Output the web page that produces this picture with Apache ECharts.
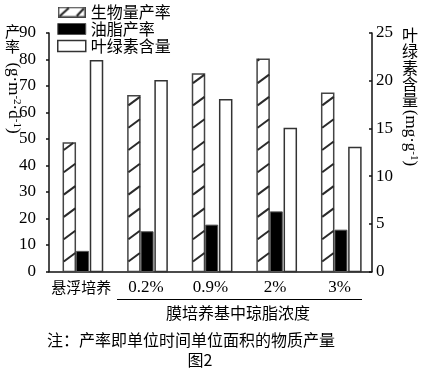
<!DOCTYPE html>
<html>
<head>
<meta charset="utf-8">
<script src="https://cdn.jsdelivr.net/npm/echarts@6/dist/echarts.min.js"></script>
<style>html,body{margin:0;padding:0;background:#fff;}#main{width:429px;height:381px;}</style>
</head>
<body>
<div id="main"></div>
<script>
// ---- data ----
const categories = ['悬浮培养', '0.2%', '0.9%', '2%', '3%'];
const biomassRate = [48.5, 66.3, 74.5, 80.1, 67.3];   // 生物量产率 (left axis)
const lipidRate = [7.6, 15.0, 17.5, 22.5, 15.6];      // 油脂产率 (left axis)
const chlorophyll = [22.1, 20.0, 18.0, 15.0, 13.0];   // 叶绿素含量 (right axis)
const leftAxis = { min: 0, max: 90, interval: 10 };
const rightAxis = { min: 0, max: 25, interval: 5 };
const seriesNames = ['生物量产率', '油脂产率', '叶绿素含量'];

const CJK = 'Noto Sans CJK SC';
const SERIF = 'Liberation Serif';

// hatched legend icon
const cv = document.createElement('canvas');
cv.width = 28; cv.height = 11;
const cx = cv.getContext('2d');
cx.fillStyle = '#fff'; cx.fillRect(0, 0, 28, 11);
cx.strokeStyle = '#444'; cx.lineWidth = 1.5; cx.strokeRect(0.75, 0.75, 26.5, 9.5);
cx.strokeStyle = '#222'; cx.lineWidth = 2;
cx.beginPath(); cx.moveTo(2, 9.5); cx.lineTo(11, 1.5); cx.stroke();
cx.beginPath(); cx.moveTo(19, 9.5); cx.lineTo(26, 2); cx.stroke();
const hatchIcon = 'image://' + cv.toDataURL();

function barRenderer(offset, fill, stroke, lw, hatched) {
  return function (params, api) {
    const i = api.value(0), v = api.value(1);
    const p0 = api.coord([i, 0]);
    const p1 = api.coord([i, v]);
    const w = 12, x = p0[0] + offset, bottom = p0[1], top = p1[1];
    const children = [{
      type: 'rect',
      shape: { x: x, y: top, width: w, height: bottom - top },
      style: { fill: fill, stroke: stroke, lineWidth: lw }
    }];
    if (hatched) {
      for (let k = 0; k < 100; k++) {
        const yL = bottom - 10 - 22.3 * k;
        const yR = yL - 8.5;
        if (yL <= top + 1) break;
        let x2 = x + w, y2 = yR;
        if (yR < top) { const t = (yL - top) / (yL - yR); x2 = x + w * t; y2 = top; }
        children.push({ type: 'line', shape: { x1: x + 0.5, y1: yL, x2: x2, y2: y2 },
          style: { stroke: '#2a2a2a', lineWidth: 2 } });
      }
    }
    return { type: 'group', children: children };
  };
}

const chart = echarts.init(document.getElementById('main'), null, { renderer: 'canvas' });
chart.setOption({
  animation: false,
  backgroundColor: '#fff',
  grid: { left: 49, right: 57, top: 33, bottom: 109.5 },
  legend: {
    orient: 'vertical', left: 57, top: 4, padding: 0, itemWidth: 28, itemHeight: 11, itemGap: 1,
    selectedMode: false,
    textStyle: { fontFamily: CJK, fontSize: 16, color: '#000', lineHeight: 16 },
    data: [
      { name: seriesNames[0], icon: hatchIcon },
      { name: seriesNames[1], icon: 'rect', itemStyle: { color: '#000', borderColor: '#555', borderWidth: 1 } },
      { name: seriesNames[2], icon: 'rect', itemStyle: { color: '#fff', borderColor: '#333', borderWidth: 1.5 } }
    ]
  },
  xAxis: {
    type: 'category', data: categories, boundaryGap: true,
    axisLine: { lineStyle: { color: '#111', width: 1.5 } },
    axisTick: { inside: true, length: 6, interval: 0, lineStyle: { color: '#111', width: 1.5 } },
    axisLabel: {
      interval: 0, margin: 8, color: '#000', fontFamily: SERIF, fontSize: 17,
      formatter: v => /[\u4e00-\u9fff]/.test(v) ? '{c|' + v + '}' : v,
      rich: { c: { fontFamily: CJK, fontSize: 15, color: '#000' } }
    }
  },
  yAxis: [
    {
      type: 'value', min: leftAxis.min, max: leftAxis.max, interval: leftAxis.interval,
      splitLine: { show: false },
      axisLine: { show: true, lineStyle: { color: '#111', width: 1.5 } },
      axisTick: { show: true, length: 3, lineStyle: { color: '#111', width: 1.5 } },
      axisLabel: { margin: 13, color: '#000', fontFamily: SERIF, fontSize: 17 }
    },
    {
      type: 'value', min: rightAxis.min, max: rightAxis.max, interval: rightAxis.interval,
      position: 'right', splitLine: { show: false },
      axisLine: { show: true, lineStyle: { color: '#111', width: 1.5 } },
      axisTick: { show: true, inside: true, length: 3, lineStyle: { color: '#111', width: 1.5 } },
      axisLabel: { margin: 4, color: '#000', fontFamily: SERIF, fontSize: 17 }
    }
  ],
  series: [
    {
      name: seriesNames[0], type: 'custom', yAxisIndex: 0,
      itemStyle: { color: '#fff', borderColor: '#444' },
      renderItem: barRenderer(-18, '#fff', '#444', 1.5, true),
      data: biomassRate.map((v, i) => [i, v])
    },
    {
      name: seriesNames[1], type: 'custom', yAxisIndex: 0,
      itemStyle: { color: '#000' },
      renderItem: barRenderer(-4.8, '#000', '#555', 1, false),
      data: lipidRate.map((v, i) => [i, v])
    },
    {
      name: seriesNames[2], type: 'custom', yAxisIndex: 1,
      itemStyle: { color: '#fff', borderColor: '#333' },
      renderItem: barRenderer(9.2, '#fff', '#333', 1.5, false),
      data: chlorophyll.map((v, i) => [i, v])
    }
  ],
  graphic: [
    { type: 'text', x: 12.5, y: 39, style: { text: '产\n率', fontFamily: CJK, fontSize: 15, lineHeight: 15, fill: '#000', align: 'center', verticalAlign: 'middle' } },
    { type: 'text', x: 13, y: 98, rotation: -Math.PI / 2,
      style: { text: '{b|(g·m}{s|-2}{b|·d}{s|-1}{b|)}', align: 'center', verticalAlign: 'middle',
        rich: { b: { fontFamily: SERIF, fontSize: 17, lineHeight: 18, fill: '#000' },
                s: { fontFamily: SERIF, fontSize: 11, lineHeight: 18, verticalAlign: 'top', fill: '#000' } } } },
    { type: 'text', x: 410, y: 67.5, style: { text: '叶\n绿\n素\n含\n量', fontFamily: CJK, fontSize: 16, lineHeight: 16.2, fill: '#000', align: 'center', verticalAlign: 'middle' } },
    { type: 'text', x: 410, y: 138, rotation: -Math.PI / 2,
      style: { text: '{b|(mg·g}{s|-1}{b|)}', align: 'center', verticalAlign: 'middle',
        rich: { b: { fontFamily: SERIF, fontSize: 17, lineHeight: 18, fill: '#000' },
                s: { fontFamily: SERIF, fontSize: 11, lineHeight: 18, verticalAlign: 'top', fill: '#000' } } } },
    { type: 'line', shape: { x1: 117, y1: 299.5, x2: 362, y2: 299.5 }, style: { stroke: '#000', lineWidth: 1 } },
    { type: 'text', x: 238, y: 313, style: { text: '膜培养基中琼脂浓度', fontFamily: CJK, fontSize: 16, fill: '#000', align: 'center', verticalAlign: 'middle' } },
    { type: 'text', x: 47, y: 340, style: { text: '注：产率即单位时间单位面积的物质产量', fontFamily: CJK, fontSize: 16, fill: '#000', align: 'left', verticalAlign: 'middle' } },
    { type: 'text', x: 200, y: 360, style: { text: '图2', fontFamily: CJK, fontSize: 16, fill: '#000', align: 'center', verticalAlign: 'middle' } }
  ]
});
</script>
</body>
</html>
